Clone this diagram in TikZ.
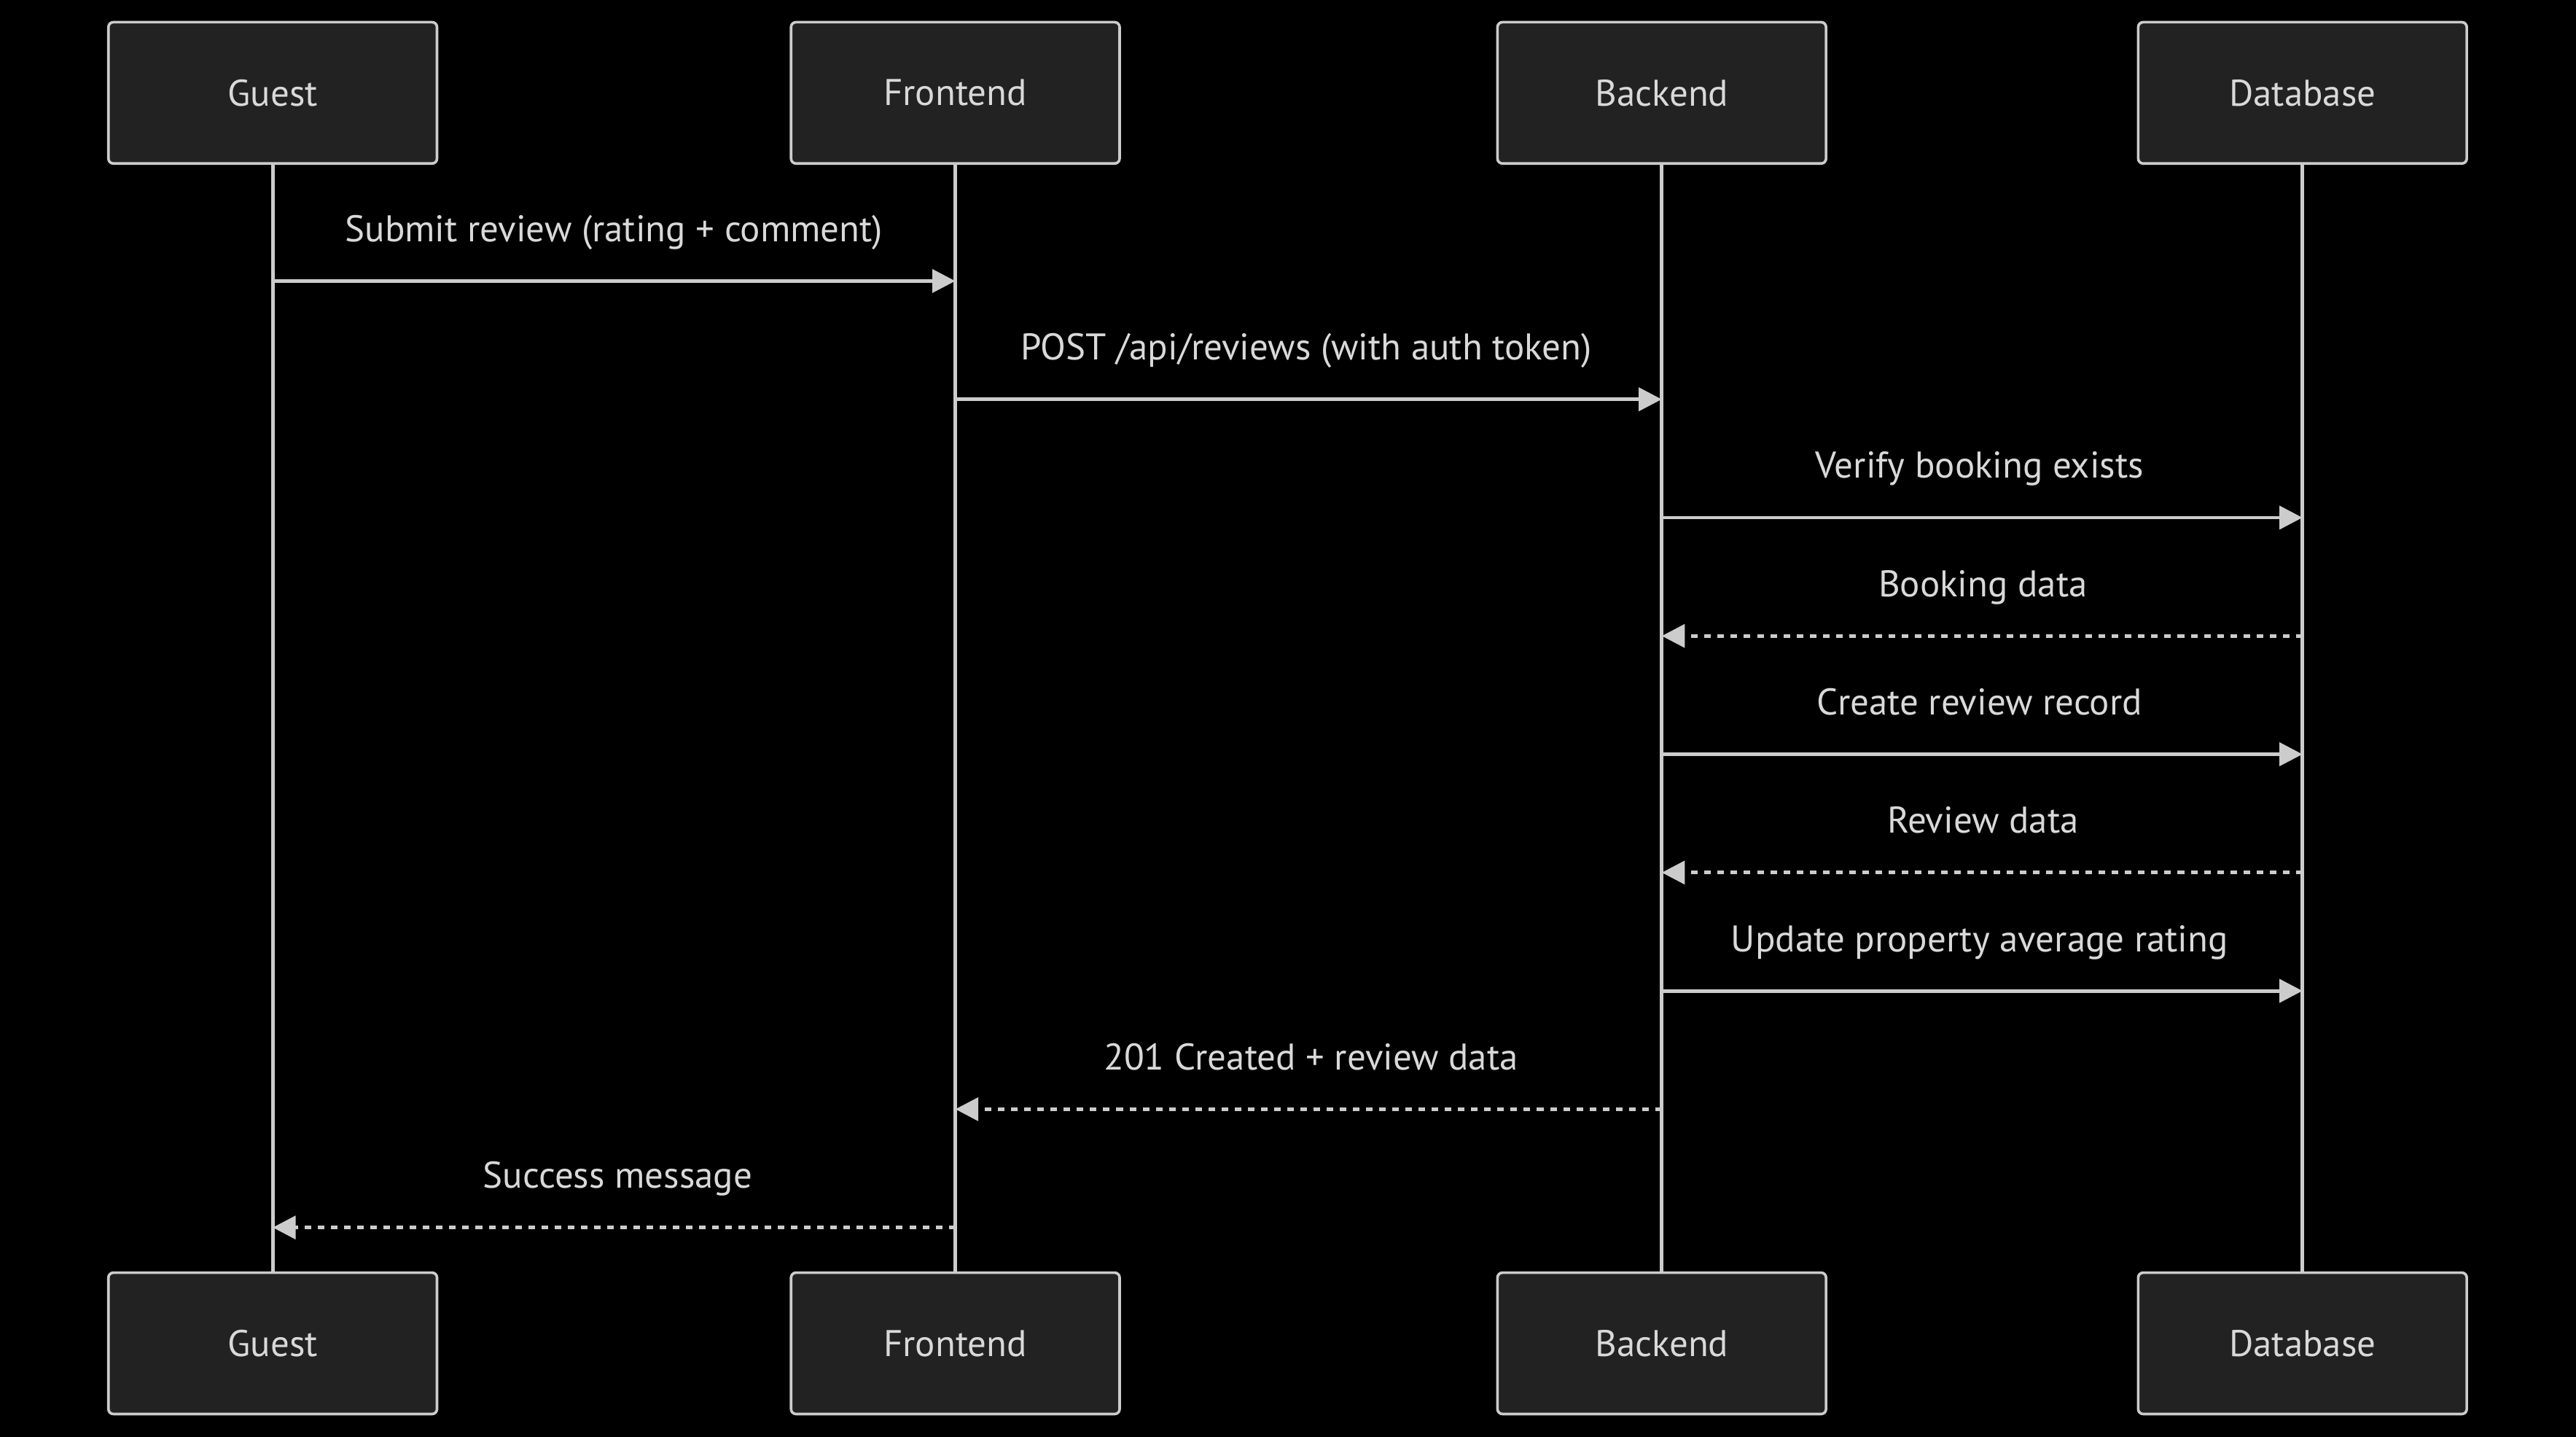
\documentclass[tikz,border=0pt]{standalone}
\usepackage{fontspec}
\setmainfont{PT Sans}
\usetikzlibrary{arrows.meta}
\definecolor{boxfill}{HTML}{222222}
\definecolor{ink}{HTML}{CCCCCC}
\definecolor{txt}{HTML}{D9D9D9}
\begin{document}
\begin{tikzpicture}[x=0.5pt,y=-0.5pt,
  actor/.style={draw=ink, fill=boxfill, line width=0.8pt, rounded corners=1.5pt,
    minimum width=100pt, minimum height=43pt, text=txt,
    font=\fontsize{11.3}{13}\selectfont, inner sep=0pt},
  life/.style={draw=ink, line width=1.1pt},
  msg/.style={draw=ink, line width=1.1pt, -{Triangle[length=7pt,width=7pt]}},
  reply/.style={msg, dash pattern=on 2pt off 2pt},
  lbl/.style={text=txt, font=\fontsize{11.3}{13}\selectfont, inner sep=0pt, anchor=base}]
\fill[black] (0,0) rectangle (1568,874.5);
\useasboundingbox (0,0) rectangle (1568,874.5);
% lifelines
\draw[life] (166,99) -- (166,774);
\draw[life] (581.5,99) -- (581.5,774);
\draw[life] (1011.5,99) -- (1011.5,774);
\draw[life] (1401.5,99) -- (1401.5,774);
% actors
\node[actor] (gT) at (166,56.5) {Guest};
\node[actor] (fT) at (581.5,56.5) {Frontend};
\node[actor] (bT) at (1011.5,56.5) {Backend};
\node[actor] (dT) at (1401.5,56.5) {Database};
\node[actor] (gB) at (166,817.5) {Guest};
\node[actor] (fB) at (581.5,817.5) {Frontend};
\node[actor] (bB) at (1011.5,817.5) {Backend};
\node[actor] (dB) at (1401.5,817.5) {Database};
% message end points
\coordinate (g1) at (166,171);   \coordinate (f1) at (581.5,171);
\coordinate (f2) at (581.5,243); \coordinate (b2) at (1011.5,243);
\coordinate (b3) at (1011.5,315);\coordinate (d3) at (1401.5,315);
\coordinate (d4) at (1401.5,387);\coordinate (b4) at (1011.5,387);
\coordinate (b5) at (1011.5,459);\coordinate (d5) at (1401.5,459);
\coordinate (d6) at (1401.5,531);\coordinate (b6) at (1011.5,531);
\coordinate (b7) at (1011.5,603);\coordinate (d7) at (1401.5,603);
\coordinate (b8) at (1011.5,675);\coordinate (f8) at (581.5,675);
\coordinate (f9) at (581.5,747); \coordinate (g9) at (166,747);
\draw[msg] (g1) -- (f1);
\draw[msg] (f2) -- (b2);
\draw[msg] (b3) -- (d3);
\draw[reply] (d4) -- (b4);
\draw[msg] (b5) -- (d5);
\draw[reply] (d6) -- (b6);
\draw[msg] (b7) -- (d7);
\draw[reply] (b8) -- (f8);
\draw[reply] (f9) -- (g9);
% labels
\node[lbl] (l1) at (373.75,147) {Submit review (rating + comment)};
\node[lbl] (l2) at (795,219) {POST /api/reviews (with auth token)};
\node[lbl] (l3) at (1205,291) {Verify booking exists};
\node[lbl] (l4) at (1207,363) {Booking data};
\node[lbl] (l5) at (1205,435) {Create review record};
\node[lbl] (l6) at (1207,507) {Review data};
\node[lbl] (l7) at (1205,579) {Update property average rating};
\node[lbl] (l8) at (798,651) {201 Created + review data};
\node[lbl] (l9) at (376,723) {Success message};
\end{tikzpicture}
\end{document}
